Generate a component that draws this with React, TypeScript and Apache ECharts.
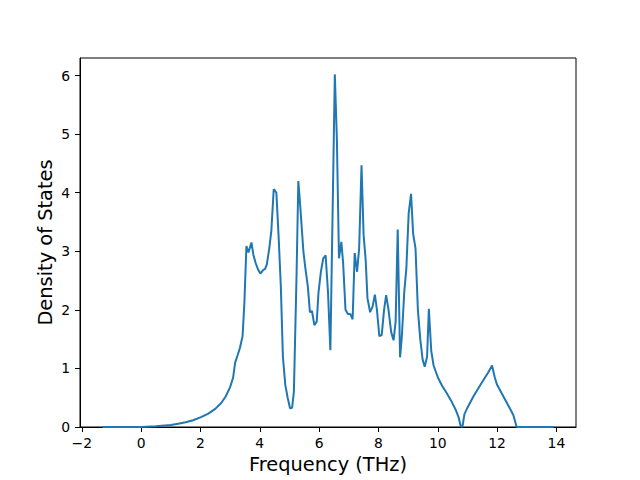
import React, { useEffect, useRef } from "react";
import * as echarts from "echarts";

const freq = [
  -1.3, -1.0, -0.5, 0.0, 0.5, 1.0, 1.25, 1.5, 1.75, 2.0, 2.25, 2.5, 2.7, 2.85, 3.0, 3.1, 3.17, 3.25, 3.33, 3.42,
  3.48, 3.55, 3.62, 3.66, 3.72, 3.78, 3.86, 3.95, 4.02, 4.11, 4.18, 4.24, 4.32, 4.39, 4.47, 4.52, 4.56, 4.64, 4.71, 4.78,
  4.86, 4.94, 5.02, 5.09, 5.15, 5.24, 5.3, 5.36, 5.47, 5.54, 5.62, 5.69, 5.76, 5.84, 5.92, 5.98, 6.06, 6.14, 6.22, 6.3,
  6.38, 6.45, 6.53, 6.6, 6.67, 6.75, 6.81, 6.89, 6.97, 7.05, 7.13, 7.2, 7.28, 7.35, 7.43, 7.5, 7.57, 7.63, 7.72, 7.8,
  7.88, 7.95, 8.03, 8.11, 8.19, 8.26, 8.34, 8.43, 8.51, 8.58, 8.65, 8.73, 8.79, 8.87, 8.94, 9.02, 9.1, 9.17, 9.25, 9.33,
  9.41, 9.49, 9.56, 9.64, 9.7, 9.78, 9.86, 10.0, 10.15, 10.3, 10.45, 10.6, 10.7, 10.77, 10.83, 10.9, 11.0, 11.2, 11.45, 11.7,
  11.83, 11.92, 12.0, 12.15, 12.3, 12.45, 12.55, 12.66, 13.0, 13.5, 13.91,
];

const dos = [
  0, 0, 0, 0.002, 0.012, 0.035, 0.055, 0.08, 0.115, 0.165, 0.225, 0.31, 0.41, 0.52, 0.68, 0.84, 1.1, 1.22, 1.35, 1.55,
  2.1, 3.09, 2.98, 3.05, 3.15, 2.95, 2.8, 2.68, 2.62, 2.68, 2.7, 2.78, 3.05, 3.35, 4.06, 4.03, 4.0, 3.2, 2.4, 1.2,
  0.72, 0.5, 0.32, 0.33, 0.6, 2.6, 4.2, 3.8, 3.0, 2.7, 2.4, 1.96, 1.98, 1.74, 1.8, 2.3, 2.65, 2.88, 2.93, 2.3,
  1.31, 3.5, 6.02, 4.9, 2.88, 3.16, 2.8, 2.0, 1.93, 1.93, 1.84, 2.97, 2.65, 3.05, 4.47, 3.28, 2.85, 2.2, 1.96, 2.05,
  2.26, 2.0, 1.55, 1.57, 2.0, 2.25, 2.0, 1.62, 1.48, 1.8, 3.37, 1.19, 1.55, 2.3, 2.7, 3.65, 3.98, 3.3, 3.05, 2.0,
  1.5, 1.15, 1.03, 1.2, 2.02, 1.3, 1.05, 0.85, 0.7, 0.58, 0.45, 0.3, 0.17, 0.02, 0.0, 0.22, 0.33, 0.52, 0.73, 0.93,
  1.05, 0.85, 0.72, 0.58, 0.44, 0.3, 0.2, 0.0, 0, 0, 0,
];

const xTicks = [-2, 0, 2, 4, 6, 8, 10, 12, 14];
const yTicks = [0, 1, 2, 3, 4, 5, 6];

const xLabel = "Frequency (THz)";
const yLabel = "Density of States";

const fmt = (v: number) => (v < 0 ? "\u2212" + Math.abs(v) : String(v));

export default function App() {
  const ref = useRef<HTMLDivElement>(null);
  useEffect(() => {
    if (!ref.current) return;
    const chart = echarts.init(ref.current, null, { renderer: "svg" });
    const font = "DejaVu Sans";
    chart.setOption({
      animation: false,
      backgroundColor: "#ffffff",
      textStyle: { fontFamily: font },
      grid: {
        left: 80,
        right: 64,
        top: 58,
        bottom: 53,
        show: true,
        borderColor: "#000000",
        borderWidth: 1,
        backgroundColor: "transparent",
      },
      xAxis: {
        type: "value",
        min: -2.06,
        max: 14.66,
        name: xLabel,
        nameLocation: "middle",
        nameGap: 26,
        nameTextStyle: { fontSize: 19.4, color: "#000", fontFamily: font },
        axisLine: { show: true, onZero: false, lineStyle: { color: "#000", width: 1 } },
        axisTick: { show: true, inside: false, length: 5, customValues: xTicks, lineStyle: { color: "#000", width: 1 } },
        axisLabel: {
          customValues: xTicks,
          margin: 9,
          fontSize: 13.9,
          color: "#000",
          fontFamily: font,
          formatter: (v: number) => fmt(v),
        },
        splitLine: { show: false },
      },
      yAxis: {
        type: "value",
        min: 0,
        max: 6.3,
        name: yLabel,
        nameLocation: "middle",
        nameRotate: 90,
        nameGap: 25,
        nameMoveOverlap: false,
        nameTextStyle: { fontSize: 19.4, color: "#000", fontFamily: font },
        axisLine: { show: true, onZero: false, lineStyle: { color: "#000", width: 1 } },
        axisTick: { show: true, inside: false, length: 5, customValues: yTicks, lineStyle: { color: "#000", width: 1 } },
        axisLabel: {
          customValues: yTicks,
          margin: 10,
          fontSize: 13.9,
          color: "#000",
          fontFamily: font,
          formatter: (v: number) => fmt(v),
        },
        splitLine: { show: false },
      },
      series: [
        {
          type: "line",
          data: freq.map((f, i) => [f, dos[i]]),
          showSymbol: false,
          symbol: "none",
          lineStyle: { color: "#1f77b4", width: 2 },
          itemStyle: { color: "#1f77b4" },
          clip: true,
        },
      ],
    });
    return () => chart.dispose();
  }, []);
  return (
    <div
      ref={ref}
      style={{ position: "fixed", left: 0, top: 0, width: 640, height: 480, background: "#fff" }}
    />
  );
}
